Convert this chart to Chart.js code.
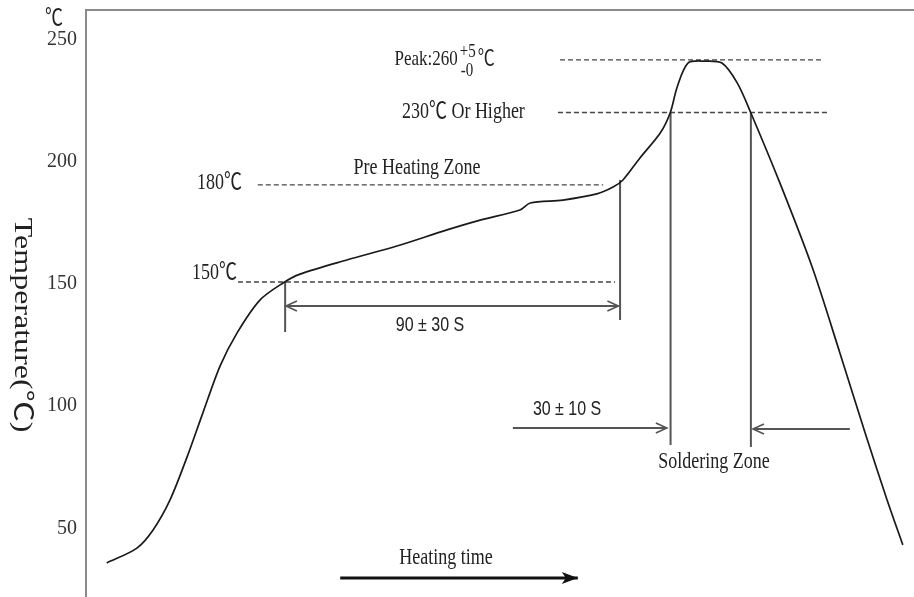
<!DOCTYPE html>
<html><head><meta charset="utf-8">
<script src="https://cdn.jsdelivr.net/npm/chart.js@4.4.1/dist/chart.umd.min.js"></script>
<style>html,body{margin:0;padding:0;background:#fff;}canvas{display:block}</style>
</head><body>
<canvas id="c" width="914" height="597"></canvas>
<script>
// Reflow profile (schematic) – time in arbitrary units, temperature
const timeS = [5, 12.3, 16.2, 20.3, 24.4, 28.3, 32.4, 36.5, 42, 47.6, 51.7, 63, 75.1, 87.2, 95.2, 104.8, 107.3, 115.2, 123.4, 127.3, 129.7, 133.8, 138.7, 141.1, 142.8, 145.4, 149.5, 153.6, 157.3, 160.6, 167.6, 175.4, 182.1, 188.2, 193.5, 197.3];
const tempC = [35.9, 42, 49.4, 61.7, 79.2, 97.6, 116.5, 130.0, 143.4, 150.4, 154, 159.8, 165.5, 172.1, 176.1, 180.2, 183.1, 184.3, 186.8, 189.6, 192.5, 201.5, 211.7, 219.9, 230.5, 240.3, 241.1, 240.3, 232.2, 219.9, 191.3, 156.9, 121.8, 89.1, 61.7, 43.3];
const yTicks = [50, 100, 150, 200, 250];

// dashed reference levels
const dashTemps = [150.8, 190.5, 220.1, 241.6];
const dashStart = [36.7, 41.5, 114, 114.5];
const dashEnd = [127.8, 124.9, 179.2, 177.8];

// vertical zone markers
const markTime = [48.1, 129.0, 141.2, 160.6];
const markTop = [150.8, 192.5, 219.9, 219.9];
const markBottom = [130.3, 135.3, 84.1, 83.3];

// arrows
const arrowY = [141.0, 91.1, 90.7, 29.8];
const arrowFrom = [48.3, 103.1, 184.5, 61.4];
const arrowTo = [128.6, 140.3, 161.1, 118.8];
const arrowBoth = [true, false, false, false];

// text labels
const noteText = ['Pre Heating Zone', '90 ± 30 S', '150℃', '180℃', '230℃ Or Higher', '30 ± 10 S', 'Soldering Zone', 'Heating time'];
const noteTime = [79.95, 83.1, 36.5, 37.7, 76.3, 116.2, 151.7, 86.96];
const noteTemp = [197.4, 133.2, 154.5, 191.3, 220.3, 98.5, 77.2, 37.9];
const noteAlign = ['center', 'center', 'right', 'right', 'left', 'center', 'center', 'center'];
const noteSans = [false, true, false, false, false, true, false, false];

const SERIF = '"Liberation Serif","Times New Roman","Noto Sans CJK SC",serif';
const SANS = '"Liberation Sans","Noto Sans CJK SC",sans-serif';
const STRETCH = 1.25;

function txt(ctx, s, x, y, size, align, fam) {
  ctx.save();
  ctx.font = size + 'px ' + (fam || SERIF);
  ctx.textAlign = align || 'center';
  ctx.textBaseline = 'middle';
  ctx.fillStyle = '#222';
  ctx.translate(x, y);
  ctx.scale(1, STRETCH);
  ctx.fillText(s, 0, 0);
  ctx.restore();
}
function head(ctx, x, y, dir, filled) {
  ctx.save();
  if (filled) {
    ctx.fillStyle = '#111';
    ctx.beginPath();
    ctx.moveTo(x, y);
    ctx.lineTo(x - dir * 16, y - 6);
    ctx.lineTo(x - dir * 12, y);
    ctx.lineTo(x - dir * 16, y + 6);
    ctx.closePath();
    ctx.fill();
  } else {
    ctx.strokeStyle = '#555';
    ctx.lineWidth = 1.6;
    ctx.beginPath();
    ctx.moveTo(x - dir * 11, y - 5);
    ctx.lineTo(x, y);
    ctx.lineTo(x - dir * 11, y + 5);
    ctx.stroke();
  }
  ctx.restore();
}

const datasets = [{
  label: 'Profile',
  data: timeS.map((t, i) => ({x: t, y: tempC[i]})),
  borderColor: '#1a1a1a', borderWidth: 1.7, pointRadius: 0,
  tension: 0.3, fill: false
}];
dashTemps.forEach((t, i) => datasets.push({
  label: 'level' + i,
  data: [{x: dashStart[i], y: t}, {x: dashEnd[i], y: t}],
  borderColor: '#444', borderWidth: 1.4, borderDash: [5, 3], pointRadius: 0
}));
markTime.forEach((t, i) => datasets.push({
  label: 'mark' + i,
  data: [{x: t, y: markTop[i]}, {x: t, y: markBottom[i]}],
  borderColor: '#555', borderWidth: 2, pointRadius: 0
}));
arrowY.forEach((v, i) => datasets.push({
  label: 'arrow' + i,
  data: [{x: arrowFrom[i], y: v}, {x: arrowTo[i], y: v}],
  borderColor: i === 3 ? '#111' : '#555', borderWidth: i === 3 ? 3 : 2, pointRadius: 0
}));

const annot = {
  id: 'annot',
  afterDatasetsDraw(chart) {
    const ctx = chart.ctx, xs = chart.scales.x, ys = chart.scales.y, ca = chart.chartArea;
    arrowY.forEach((v, i) => {
      const y = ys.getPixelForValue(v);
      const x0 = xs.getPixelForValue(arrowFrom[i]), x1 = xs.getPixelForValue(arrowTo[i]);
      const dir = x1 > x0 ? 1 : -1;
      head(ctx, x1, y, dir, i === 3);
      if (arrowBoth[i]) head(ctx, x0, y, -dir, false);
    });
    noteText.forEach((s, i) => {
      txt(ctx, s, xs.getPixelForValue(noteTime[i]), ys.getPixelForValue(noteTemp[i]),
          noteSans[i] ? 16 : 18, noteAlign[i], noteSans[i] ? SANS : null);
    });
    const px = xs.getPixelForValue(74.5), py = ys.getPixelForValue(dashTemps[3]);
    ctx.save();
    ctx.font = '17px ' + SERIF;
    const w = ctx.measureText('Peak:260').width;
    ctx.restore();
    txt(ctx, 'Peak:260', px, py, 17, 'left');
    txt(ctx, '+5', px + w + 2, py - 8, 15, 'left');
    txt(ctx, '-0', px + w + 3, py + 11, 15, 'left');
    txt(ctx, '℃', px + w + 20, py, 17, 'left');
    txt(ctx, '℃', ca.left - 32, ys.getPixelForValue(258.3), 18, 'center');
    ctx.save();
    ctx.translate(ca.left - 64, ys.getPixelForValue(133.2));
    ctx.rotate(Math.PI / 2);
    ctx.scale(1.28, 1);
    ctx.font = '25px ' + SERIF;
    ctx.fillStyle = '#222';
    ctx.textAlign = 'center';
    ctx.textBaseline = 'middle';
    ctx.fillText('Temperature(℃)', 0, 0);
    ctx.restore();
  }
};

new Chart(document.getElementById('c'), {
  type: 'line',
  data: {datasets},
  options: {
    responsive: false, animation: false, devicePixelRatio: 1,
    layout: {padding: 0},
    plugins: {legend: {display: false}, tooltip: {enabled: false}},
    scales: {
      x: {
        type: 'linear', position: 'top', min: 0, max: 200,
        ticks: {display: false}, grid: {display: false, drawTicks: false},
        border: {display: true, color: '#8a8a8a', width: 2},
        afterFit: s => { s.height = 10; s.paddingLeft = 0; s.paddingRight = 0; }
      },
      y: {
        type: 'linear', min: 22, max: 262,
        afterBuildTicks: s => { s.ticks = yTicks.map(v => ({value: v})); },
        ticks: {font: {family: SERIF, size: 20}, color: '#333', padding: 9},
        grid: {display: false, drawTicks: false},
        border: {display: true, color: '#8a8a8a', width: 2},
        afterFit: s => { s.width = 86; s.paddingTop = 0; s.paddingBottom = 0; }
      }
    }
  },
  plugins: [annot]
});
</script>
</body></html>
